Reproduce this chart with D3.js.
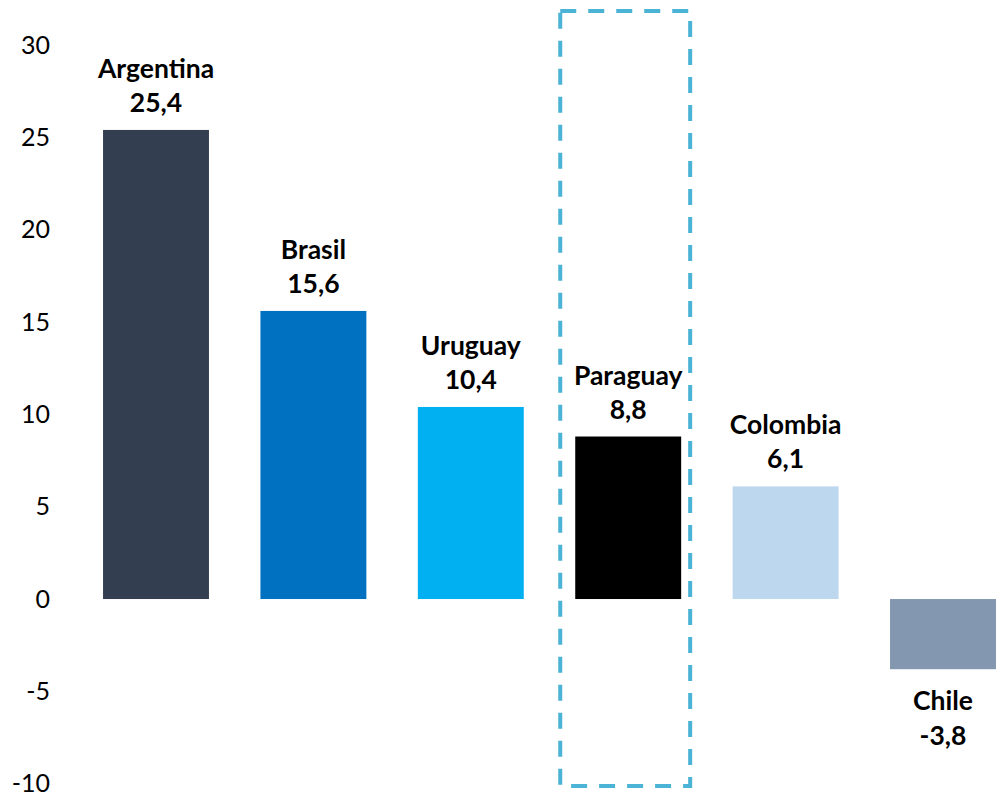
<!DOCTYPE html>
<html><head><meta charset="utf-8">
<script src="https://cdn.jsdelivr.net/npm/d3@7"></script>
<style>body{margin:0;background:#fff;} text{font-family:Lato, "Open Sans", sans-serif;}</style>
</head><body><svg id="c" width="999" height="800"></svg>
<script>
const categories = ["Argentina","Brasil","Uruguay","Paraguay","Colombia","Chile"];
const values = [25.4, 15.6, 10.4, 8.8, 6.1, -3.8];
const valueLabels = ["25,4","15,6","10,4","8,8","6,1","-3,8"];
const colors = ["#333f50","#0070c0","#00b0f0","#000000","#bdd7ee","#8497b0"];
const tickValues = [-10,-5,0,5,10,15,20,25,30];
const highlight = "Paraguay";

const svg = d3.select("#c");
const y = d3.scaleLinear().domain([-10,30]).range([783.7,45]);
const x = d3.scaleBand().domain(categories).range([77.3,1021.7]).paddingInner(0.327).paddingOuter(0.1635);

const ax = svg.append("g").attr("transform","translate(50,0)")
  .call(d3.axisLeft(y).tickValues(tickValues).tickSize(0).tickPadding(0).tickFormat(d=>String(d)));
ax.select(".domain").remove();
ax.selectAll("text").attr("font-size",25).attr("fill","#000").style("font-family","Lato, sans-serif");

const data = categories.map((c,i)=>({c, v:values[i], l:valueLabels[i], col:colors[i]}));

svg.selectAll("rect.bar").data(data).enter().append("rect").attr("class","bar")
  .attr("x",d=>x(d.c)).attr("width",x.bandwidth())
  .attr("y",d=>y(Math.max(0,d.v))).attr("height",d=>Math.abs(y(d.v)-y(0)))
  .attr("fill",d=>d.col);

const lab = svg.selectAll("g.lab").data(data).enter().append("g").attr("class","lab");
lab.append("text").attr("text-anchor","middle").attr("font-weight","bold").attr("font-size",26.5)
  .attr("x",d=>x(d.c)+x.bandwidth()/2)
  .attr("y",d=>d.v>=0 ? y(d.v)-52 : y(d.v)+41)
  .text(d=>d.c);
lab.append("text").attr("text-anchor","middle").attr("font-weight","bold").attr("font-size",26.5)
  .attr("x",d=>x(d.c)+x.bandwidth()/2)
  .attr("y",d=>d.v>=0 ? y(d.v)-18 : y(d.v)+76)
  .text(d=>d.l);

const hx = x(highlight);
svg.append("rect").attr("x",hx-15).attr("y",11).attr("width",x.bandwidth()+24).attr("height",775)
  .attr("fill","none").attr("stroke","#4bb3d6").attr("stroke-width",4).attr("stroke-dasharray","16,12");
</script></body></html>
